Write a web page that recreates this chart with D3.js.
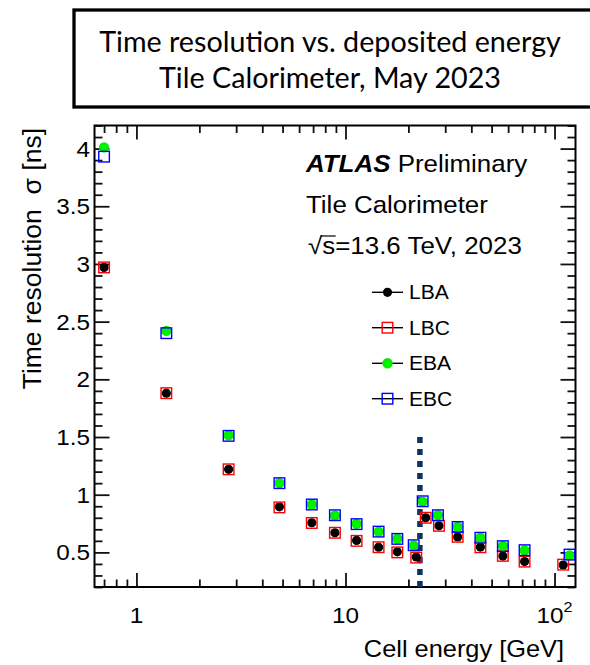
<!DOCTYPE html>
<html>
<head>
<meta charset="utf-8">
<script src="https://d3js.org/d3.v7.min.js"></script>
<style>
body {margin:0; background:#fff;}
svg text {font-family: "Liberation Sans", Arial, Helvetica, sans-serif; fill:#000;}
.title {font-family: Lato, "Noto Sans", sans-serif;}
.axis path.domain {display:none;}
.axis line {stroke:#111; stroke-width:1.8;}
</style>
</head>
<body>
<svg width="590" height="665"></svg>
<script>
// mean cell energy of each bin [GeV], long barrel / extended barrel
var energyLB = [0.70, 1.39, 2.76, 4.83, 6.90, 8.9, 11.3, 14.4, 17.7, 21.8, 24.2, 28.0, 34.4, 44.2, 56.6, 71.9, 110];
var energyEB = [0.70, 1.39, 2.76, 4.83, 6.90, 8.9, 11.3, 14.4, 17.7, 21.2, 23.4, 27.7, 34.4, 44.2, 56.6, 71.9, 118];

// time resolution sigma [ns]
var lba = [2.97, 1.88, 1.22, 0.895, 0.757, 0.67, 0.604, 0.545, 0.505, 0.46, 0.80, 0.73, 0.634, 0.546, 0.468, 0.42, 0.39];
var lbc = [2.97, 1.88, 1.22, 0.89, 0.755, 0.67, 0.60, 0.545, 0.50, 0.455, 0.80, 0.73, 0.635, 0.545, 0.47, 0.42, 0.394];
var eba = [4.01, 2.42, 1.515, 1.10, 0.915, 0.82, 0.748, 0.68, 0.618, 0.56, 0.94, 0.823, 0.722, 0.627, 0.556, 0.517, 0.474];
var ebc = [3.93, 2.40, 1.51, 1.10, 0.915, 0.822, 0.745, 0.68, 0.617, 0.562, 0.943, 0.822, 0.72, 0.627, 0.554, 0.519, 0.481];

var seriesNames = ["LBA", "LBC", "EBA", "EBC"];

var xTickValues = [1, 10, 100];
var xTickLabels = ["1", "10", "10^2"];
var yTickValues = [0.5, 1, 1.5, 2, 2.5, 3, 3.5, 4];
var yTickLabels = ["0.5", "1", "1.5", "2", "2.5", "3", "3.5", "4"];

var cutEnergy = 22.7;
var cutRange = [0.2, 1.5];

var svg = d3.select("svg");

var padL = 94.5, padR = 575.5, padT = 125.5, padB = 587;
var sx = 1.08; // ROOT text comes out slightly wide

var x = d3.scaleLog().domain([0.63, 126]).range([padL, padR]);
var y = d3.scaleLinear().domain([0.2, 4.2]).range([padB, padT]);

// minor ticks
var xMinor = [];
[0.1, 1, 10].forEach(function(d) {
  for (var k = 2; k <= 9; k++) {
    var v = d * k;
    if (v > 0.63 && v < 126) xMinor.push(v);
  }
});
var yMinor = d3.range(2, 43).map(function(i) { return i / 10; })
  .filter(function(v) { return Math.abs(v * 2 - Math.round(v * 2)) > 1e-6; });

// text helper, x-stretched
function label(px, py, size, anchor) {
  return svg.append("text")
    .attr("transform", "translate(" + px + "," + py + ") scale(" + sx + ",1)")
    .attr("text-anchor", anchor || "start")
    .style("font-size", size + "px");
}

// title box
svg.append("rect")
  .attr("x", 74).attr("y", 10)
  .attr("width", 540).attr("height", 97)
  .attr("fill", "#fff").attr("stroke", "#000").attr("stroke-width", 3.3);

svg.append("text").attr("class", "title")
  .attr("x", 330).attr("y", 52)
  .attr("text-anchor", "middle").style("font-size", "28.7px")
  .text("Time resolution vs. deposited energy");
svg.append("text").attr("class", "title")
  .attr("x", 330).attr("y", 88)
  .attr("text-anchor", "middle").style("font-size", "28.7px")
  .text("Tile Calorimeter, May 2023");

// axes (ticks pointing inwards, mirrored on top and right)
function addAxis(axis, tx, ty) {
  svg.append("g").attr("class", "axis")
    .attr("transform", "translate(" + tx + "," + ty + ")")
    .call(axis);
}
addAxis(d3.axisBottom(x).tickValues(xTickValues).tickSize(-14).tickFormat(""), 0, padB);
addAxis(d3.axisBottom(x).tickValues(xMinor).tickSize(-7.5).tickFormat(""), 0, padB);
addAxis(d3.axisTop(x).tickValues(xTickValues).tickSize(-14).tickFormat(""), 0, padT);
addAxis(d3.axisTop(x).tickValues(xMinor).tickSize(-7.5).tickFormat(""), 0, padT);
addAxis(d3.axisLeft(y).tickValues(yTickValues).tickSize(-15).tickFormat(""), padL, 0);
addAxis(d3.axisLeft(y).tickValues(yMinor).tickSize(-8).tickFormat(""), padL, 0);
addAxis(d3.axisRight(y).tickValues(yTickValues).tickSize(-15).tickFormat(""), padR, 0);
addAxis(d3.axisRight(y).tickValues(yMinor).tickSize(-8).tickFormat(""), padR, 0);

svg.append("rect")
  .attr("x", padL).attr("y", padT)
  .attr("width", padR - padL).attr("height", padB - padT)
  .attr("fill", "none").attr("stroke", "#000").attr("stroke-width", 2);

// tick labels
yTickValues.forEach(function(d, i) {
  label(padL - 4.5, y(d), 22.5, "end").attr("dy", "0.36em").text(yTickLabels[i]);
});

xTickValues.forEach(function(d, i) {
  var parts = xTickLabels[i].split("^");
  var t = label(x(d), 623, 22.5, "middle");
  t.append("tspan").text(parts[0]);
  if (parts[1]) t.append("tspan").attr("dy", -11).style("font-size", "15px").text(parts[1]);
});

// axis titles
label(564, 657, 23.5, "end").text("Cell energy [GeV]");

svg.append("text")
  .attr("transform", "translate(41,128) rotate(-90)")
  .attr("text-anchor", "end").style("font-size", "26.5px")
  .style("white-space", "pre")
  .text("Time resolution  \u03c3 [ns]");

// dotted line
svg.append("line")
  .attr("x1", x(cutEnergy)).attr("x2", x(cutEnergy))
  .attr("y1", y(cutRange[1])).attr("y2", y(cutRange[0]))
  .attr("stroke", "#0b3560").attr("stroke-width", 5.5)
  .attr("stroke-dasharray", "6,6");

// data
var series = [
  {name: "LBA", e: energyLB, v: lba, shape: "circle", color: "#000"},
  {name: "LBC", e: energyLB, v: lbc, shape: "square", color: "#ff0000"},
  {name: "EBA", e: energyEB, v: eba, shape: "circle", color: "#00f000"},
  {name: "EBC", e: energyEB, v: ebc, shape: "square", color: "#0000ff"}
];

function drawMarker(g, s, cx, cy) {
  if (s.shape == "circle") {
    g.append("circle").attr("cx", cx).attr("cy", cy)
      .attr("r", s.name == "LBA" ? 4.6 : 5.2).attr("fill", s.color);
  } else {
    g.append("rect").attr("x", cx - 5.3).attr("y", cy - 5.3)
      .attr("width", 10.6).attr("height", 10.6)
      .attr("fill", "none").attr("stroke", s.color).attr("stroke-width", 1.4);
  }
}

series.forEach(function(s) {
  var g = svg.append("g");
  s.v.forEach(function(val, i) {
    drawMarker(g, s, x(s.e[i]), y(val));
  });
});

// ATLAS label
var lab = label(306, 172, 24);
lab.append("tspan").style("font-weight", "bold").style("font-style", "italic").text("ATLAS");
lab.append("tspan").text("\u00a0Preliminary");
label(306, 213, 24).text("Tile Calorimeter");

var en = label(308, 254, 24);
en.append("tspan").text("\u221a");
en.append("tspan").text("s");
en.append("tspan").text("=13.6 TeV, 2023");
var sx0 = en.node().getStartPositionOfChar(1).x;
var sx1 = en.node().getEndPositionOfChar(1).x;
svg.append("line")
  .attr("x1", 308 + sx * sx0 - 1).attr("x2", 308 + sx * sx1 + 0.5)
  .attr("y1", 236).attr("y2", 236)
  .attr("stroke", "#000").attr("stroke-width", 1.2);

// legend
var legY = [292.3, 327.7, 363.3, 398.7];
series.forEach(function(s, i) {
  var g = svg.append("g");
  g.append("line").attr("x1", 372).attr("x2", 403)
    .attr("y1", legY[i]).attr("y2", legY[i])
    .attr("stroke", "#000").attr("stroke-width", 1.4);
  drawMarker(g, s, 387.5, legY[i]);
  label(409, legY[i], 19.5).attr("dy", "0.36em").text(seriesNames[i]);
});
</script>
</body>
</html>
